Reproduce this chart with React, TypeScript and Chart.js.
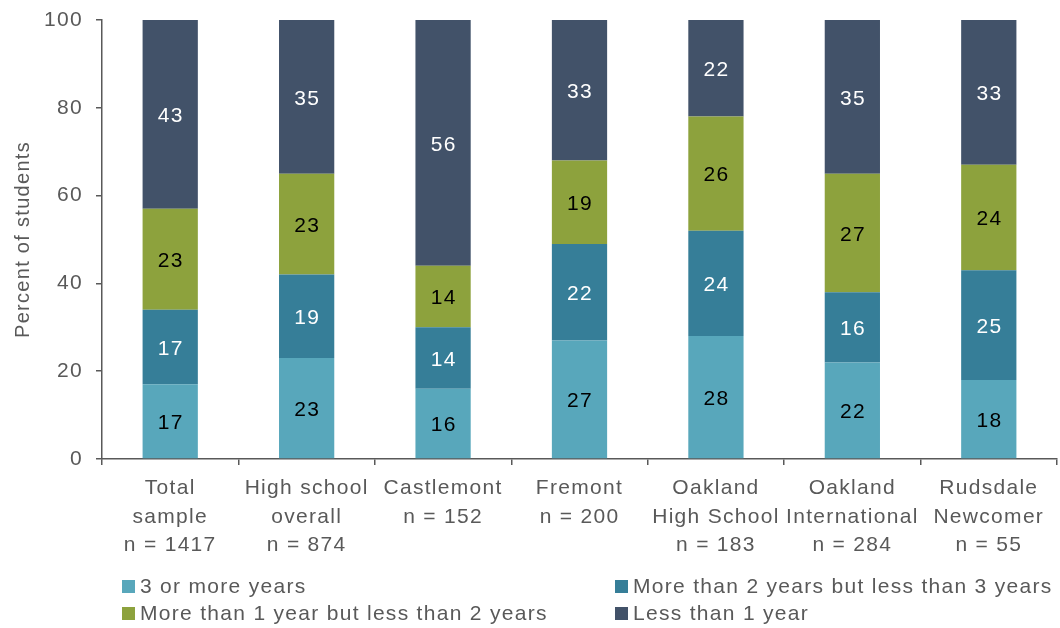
import React, { useEffect, useRef } from "react";
import { Chart, registerables } from "chart.js";

Chart.register(...registerables);

const categories: string[][] = [
  ["Total", "sample", "n = 1417"],
  ["High school", "overall", "n = 874"],
  ["Castlemont", "n = 152"],
  ["Fremont", "n = 200"],
  ["Oakland", "High School", "n = 183"],
  ["Oakland", "International", "n = 284"],
  ["Rudsdale", "Newcomer", "n = 55"],
];

const threeOrMore = [17, 23, 16, 27, 28, 22, 18];
const twoToThree = [17, 19, 14, 22, 24, 16, 25];
const oneToTwo = [23, 23, 14, 19, 26, 27, 24];
const lessThanOne = [43, 35, 56, 33, 22, 35, 33];

const seriesNames = [
  "3 or more years",
  "More than 2 years but less than 3 years",
  "More than 1 year but less than 2 years",
  "Less than 1 year",
];
const seriesColors = ["#58A7BB", "#367E98", "#8DA23D", "#425269"];
const labelColors = ["#000000", "#ffffff", "#000000", "#ffffff"];

const yTicks = [0, 20, 40, 60, 80, 100];

const FONT = "'Liberation Sans', Arial, sans-serif";
const GREY = "#595959";
const LS = "1.3px";

export default function App() {
  const ref = useRef<HTMLCanvasElement | null>(null);

  useEffect(() => {
    document.body.style.margin = "0";
    const canvas = ref.current;
    if (!canvas) return;

    const spacing = {
      id: "spacing",
      afterInit(chart: any) {
        chart.ctx.letterSpacing = LS;
      },
      beforeUpdate(chart: any) {
        chart.ctx.letterSpacing = LS;
      },
      beforeDraw(chart: any) {
        chart.ctx.letterSpacing = LS;
      },
    };

    const valueLabels = {
      id: "valueLabels",
      afterDatasetsDraw(chart: any) {
        const ctx = chart.ctx;
        ctx.save();
        ctx.letterSpacing = LS;
        ctx.font = `21px ${FONT}`;
        ctx.textAlign = "center";
        ctx.textBaseline = "middle";
        chart.data.datasets.forEach((ds: any, i: number) => {
          const meta = chart.getDatasetMeta(i);
          meta.data.forEach((bar: any, j: number) => {
            const top = Math.max(bar.y, chart.chartArea.top);
            const bottom = bar.base;
            ctx.fillStyle = labelColors[i];
            ctx.fillText(String(ds.data[j]), bar.x + 0.6, (top + bottom) / 2 + 2);
          });
        });
        ctx.restore();
      },
    };

    const legendPlugin = {
      id: "customLegend",
      afterDraw(chart: any) {
        const ctx = chart.ctx;
        ctx.save();
        ctx.letterSpacing = LS;
        ctx.font = `21px ${FONT}`;
        ctx.textBaseline = "middle";
        ctx.textAlign = "left";
        const cols = [122, 615];
        const rows = [586, 613];
        seriesNames.forEach((name, k) => {
          const x = cols[k % 2];
          const y = rows[Math.floor(k / 2)];
          ctx.fillStyle = seriesColors[k];
          ctx.fillRect(x, y - 6, 13, 13);
          ctx.fillStyle = GREY;
          ctx.fillText(name, x + 18, y + 1);
        });
        ctx.restore();
      },
    };

    const allSeries = [threeOrMore, twoToThree, oneToTwo, lessThanOne];

    const chart = new Chart(canvas, {
      type: "bar",
      data: {
        labels: categories,
        datasets: allSeries.map((d, i) => ({
          label: seriesNames[i],
          data: d,
          backgroundColor: seriesColors[i],
          borderWidth: 0,
          barPercentage: 0.405,
          categoryPercentage: 1,
        })),
      },
      options: {
        animation: false,
        responsive: false,
        maintainAspectRatio: false,
        layout: { padding: { top: 20, right: 3, bottom: 0, left: 0 } },
        plugins: {
          legend: { display: false },
          tooltip: { enabled: false },
        },
        scales: {
          x: {
            stacked: true,
            grid: {
              display: true,
              drawOnChartArea: false,
              drawTicks: true,
              tickLength: 6,
              color: GREY,
              lineWidth: 1.5,
              offset: true,
            },
            border: { display: true, color: GREY, width: 1.5 },
            ticks: {
              color: GREY,
              font: { family: FONT, size: 21, lineHeight: 1.36 },
              maxRotation: 0,
              autoSkip: false,
              padding: 9,
            },
            afterFit(scale: any) {
              scale.height = 169;
            },
          },
          y: {
            stacked: true,
            min: 0,
            max: 100,
            afterBuildTicks(scale: any) {
              scale.ticks = yTicks.map((v) => ({ value: v }));
            },
            grid: {
              display: true,
              drawOnChartArea: false,
              drawTicks: true,
              tickLength: 6,
              color: GREY,
              lineWidth: 1.5,
            },
            border: { display: true, color: GREY, width: 1.5 },
            ticks: {
              color: GREY,
              font: { family: FONT, size: 21 },
              padding: 13,
            },
            title: {
              display: true,
              text: "Percent of students",
              color: GREY,
              font: { family: FONT, size: 20 },
              padding: { top: 11, bottom: 4 },
            },
            afterFit(scale: any) {
              scale.width = 102;
              scale.paddingTop = 0;
              scale.paddingBottom = 0;
            },
          },
        },
      },
      plugins: [spacing, valueLabels, legendPlugin],
    });

    return () => chart.destroy();
  }, []);

  return (
    <div style={{ width: 1060, height: 628 }}>
      <canvas ref={ref} width={1060} height={628} style={{ display: "block" }} />
    </div>
  );
}
